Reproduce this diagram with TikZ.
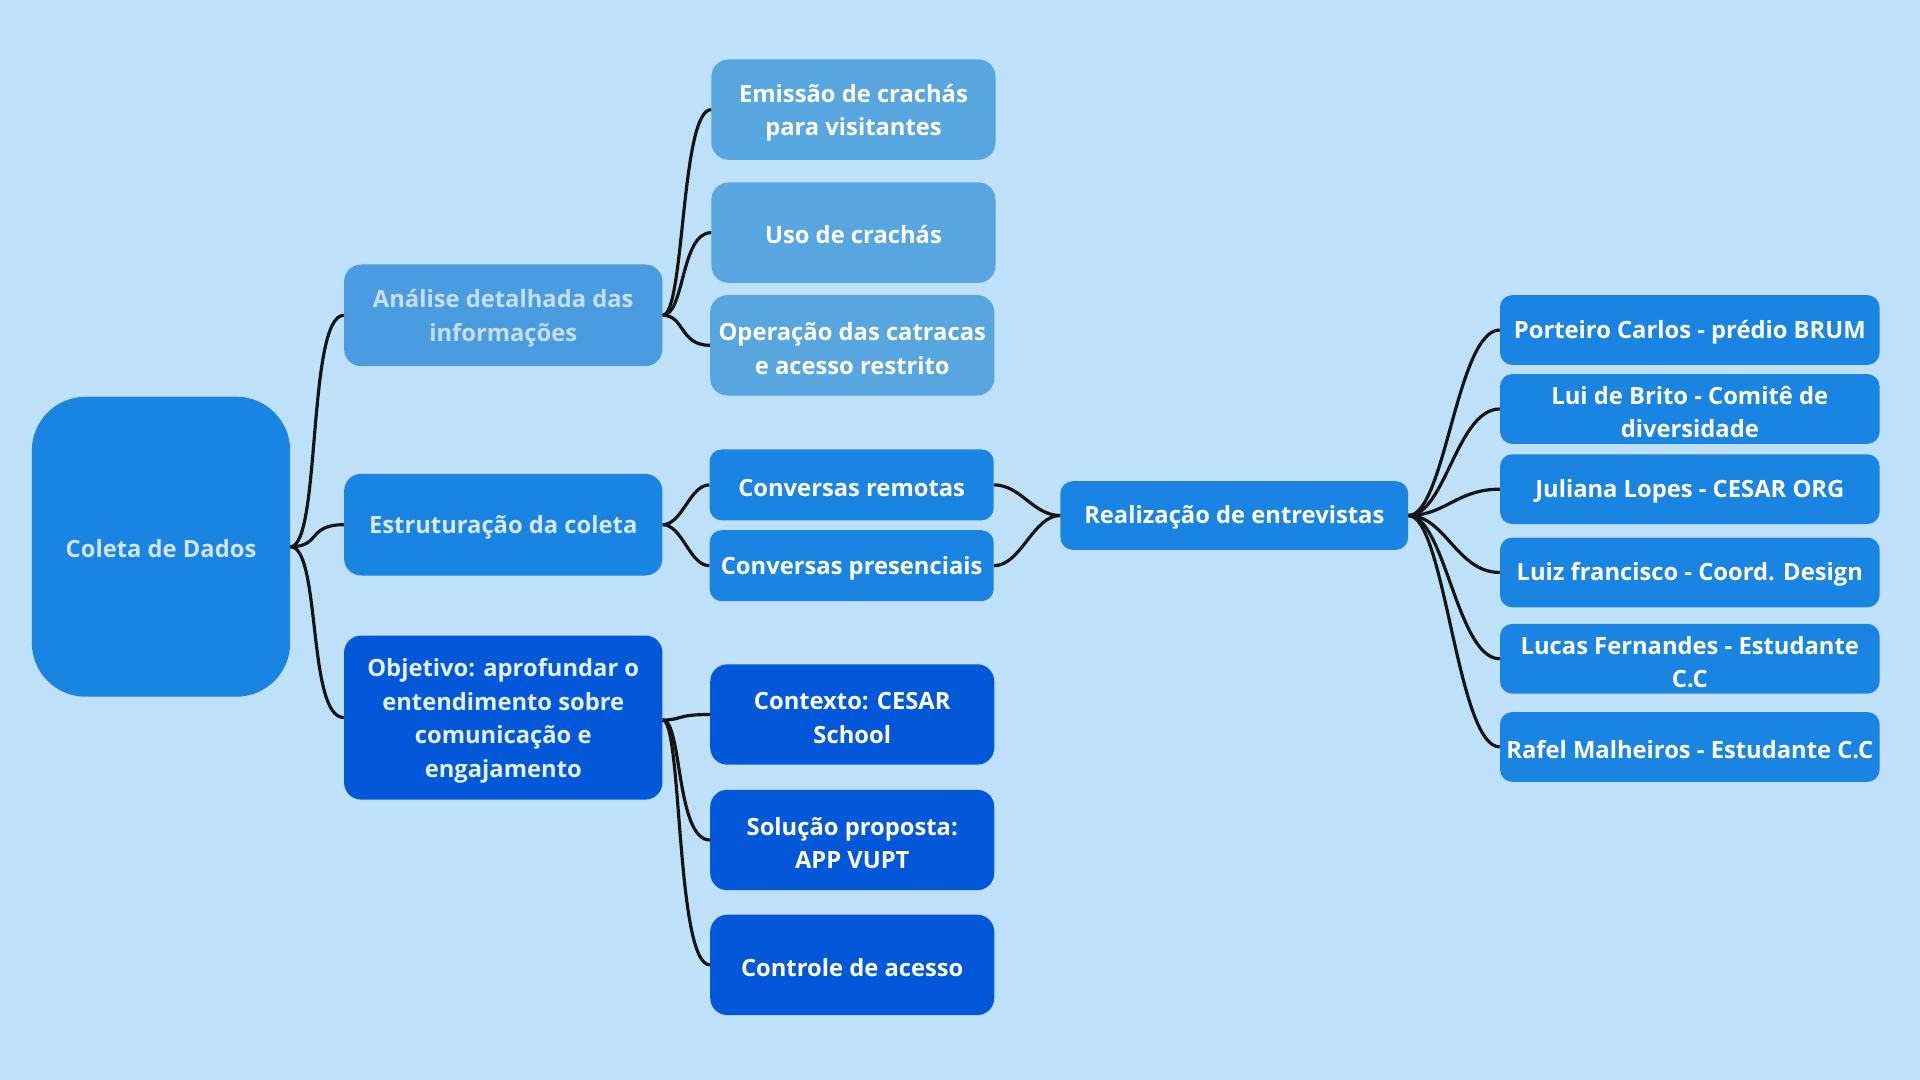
\documentclass[tikz,border=0pt]{standalone}
\usepackage{fontspec}
\setmainfont{Open Sans}
\definecolor{fundo}{HTML}{BEE1F9}
\definecolor{azulraiz}{HTML}{1A84E2}
\definecolor{azulanalise}{HTML}{4A9CE0}
\definecolor{azulclaro}{HTML}{57A6DF}
\definecolor{azulmedio}{HTML}{1A84E2}
\definecolor{azulescuro}{HTML}{0258D8}
\definecolor{textoclaro}{HTML}{C4DFF6}
\newcommand{\topo}{\rule{0pt}{20pt}}
\begin{document}
\begin{tikzpicture}[x=1pt, y=-1pt,
  box/.style={draw=none, rectangle, rounded corners=14pt, minimum width=232pt, minimum height=82pt,
    align=center, text=white, inner sep=2pt, font=\bfseries\fontsize{19.4}{27.5}\selectfont,
    execute at begin node={\rule{0pt}{18.5pt}}},
  link/.style={draw=black!92, line width=2.6pt}]

% Fundo
\fill[fundo] (0,0) rectangle (1568,882);
\useasboundingbox (0,0) rectangle (1568,882);

% Knoten
\node[box, fill=azulraiz, text=textoclaro!80!white, minimum width=211pt, minimum height=245pt, rounded corners=44pt] (raiz) at (131.5,446.5) {Coleta de Dados};

\node[box, fill=azulanalise, text=textoclaro, minimum width=260pt, minimum height=83pt] (analise) at (411,257.5) {\topo Análise detalhada das\\informações};
\node[box, fill=azulmedio, text=textoclaro!70!white, minimum width=260pt, minimum height=83pt] (estrutura) at (411,428.5) {Estruturação da coleta};
\node[box, fill=azulescuro, text=textoclaro!45!white, minimum width=260pt, minimum height=134pt] (objetivo) at (411,586) {\topo Objetivo: aprofundar o\\entendimento sobre\\comunicação e\\engajamento};

\node[box, fill=azulclaro] (emissao) at (697,89.5) {\topo Emissão de crachás\\para visitantes};
\node[box, fill=azulclaro] (uso) at (697,190) {Uso de crachás};
\node[box, fill=azulclaro] (catraca) at (696,282) {\topo Operação das catracas\\e acesso restrito};

\node[box, fill=azulmedio, minimum height=58pt, rounded corners=10pt] (remotas) at (695.5,396) {Conversas remotas};
\node[box, fill=azulmedio, minimum height=58pt, rounded corners=10pt] (presenciais) at (695.5,462) {Conversas presenciais};

\node[box, fill=azulescuro] (contexto) at (696,583.5) {\topo Contexto: CESAR\\School};
\node[box, fill=azulescuro] (solucao) at (696,686) {\topo Solução proposta:\\APP VUPT};
\node[box, fill=azulescuro] (controle) at (696,788) {Controle de acesso};

\node[box, fill=azulmedio, minimum width=284pt, minimum height=56pt, rounded corners=10pt] (entrevistas) at (1008,421) {Realização de entrevistas};

\foreach \n/\y/\t in {porteiro/269.5/{Porteiro Carlos - prédio BRUM},
                      lui/334/{\topo Lui de Brito - Comitê de\\diversidade},
                      juliana/399.5/{Juliana Lopes - CESAR ORG},
                      luiz/467.5/{Luiz francisco - Coord. Design},
                      lucas/538/{\topo Lucas Fernandes - Estudante\\C.C},
                      rafel/610/{Rafel Malheiros - Estudante C.C}}
  \node[box, fill=azulmedio, minimum width=310pt, minimum height=57pt, rounded corners=10pt] (\n) at (1380,\y) {\t};

% Verbindungen
\foreach \c in {analise,estrutura,objetivo}
  \draw[link] (raiz.east) .. controls +(25,0) and +(-30,0) .. (\c.west);
\foreach \c in {emissao,uso,catraca}
  \draw[link] (analise.east) .. controls +(18,0) and +(-25,0) .. (\c.west);
\foreach \c in {remotas,presenciais}
  \draw[link] (estrutura.east) .. controls +(16,0) and +(-16,0) .. (\c.west);
\foreach \c in {contexto,solucao,controle}
  \draw[link] ([yshift=-2pt]objetivo.east) .. controls +(16,0) and +(-28,0) .. (\c.west);
\foreach \c in {remotas,presenciais}
  \draw[link] (\c.east) .. controls +(22,0) and +(-22,0) .. (entrevistas.west);
\foreach \c in {porteiro,lui,juliana,luiz,lucas,rafel}
  \draw[link] (entrevistas.east) .. controls +(30,0) and +(-35,0) .. (\c.west);

\end{tikzpicture}
\end{document}
